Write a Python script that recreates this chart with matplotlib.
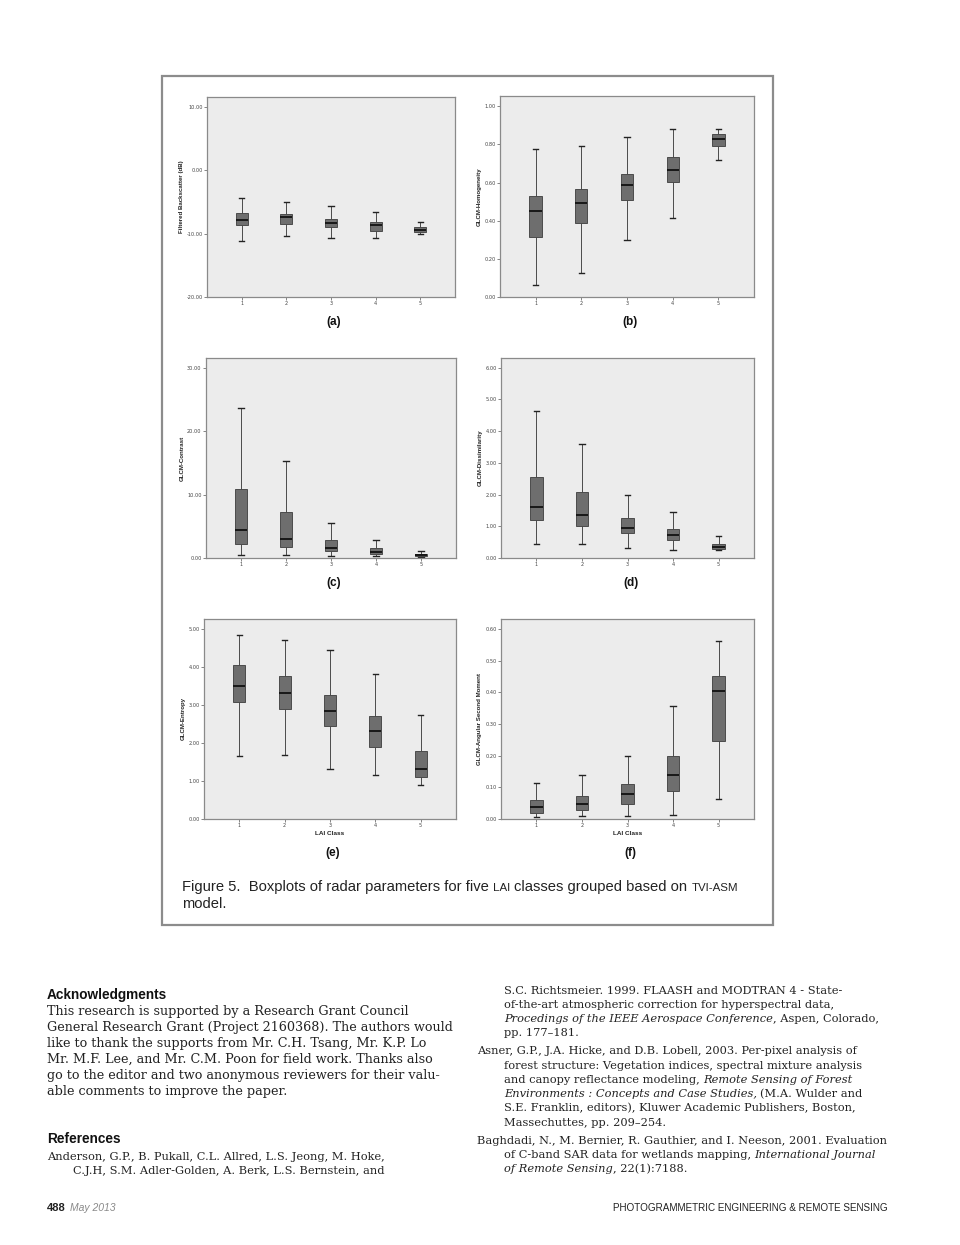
import matplotlib
matplotlib.use("Agg")
import matplotlib.pyplot as plt
from matplotlib.patches import Rectangle

W, H = 960, 1245

classes = ["1", "2", "3", "4", "5"]

# (a) Filtered Backscatter (dB)
a_lo = [-11.2, -10.4, -10.6, -10.6, -10.1]
a_q1 = [-8.7, -8.4, -9.0, -9.5, -9.8]
a_med = [-7.85, -7.4, -8.3, -8.7, -9.4]
a_q3 = [-6.8, -6.9, -7.6, -8.2, -8.95]
a_hi = [-4.3, -5.0, -5.7, -6.5, -8.2]

# (b) GLCM-Homogeneity
b_lo = [0.064, 0.127, 0.30, 0.416, 0.716]
b_q1 = [0.317, 0.389, 0.507, 0.603, 0.794]
b_med = [0.449, 0.493, 0.589, 0.667, 0.826]
b_q3 = [0.53, 0.566, 0.646, 0.732, 0.857]
b_hi = [0.777, 0.79, 0.84, 0.88, 0.88]

# (c) GLCM-Contrast
c_lo = [0.47, 0.52, 0.31, 0.35, 0.16]
c_q1 = [2.25, 1.78, 1.05, 0.63, 0.26]
c_med = [4.4, 3.04, 1.57, 1.0, 0.42]
c_q3 = [10.8, 7.24, 2.88, 1.52, 0.68]
c_hi = [23.6, 15.3, 5.45, 2.83, 1.15]

# (d) GLCM-Dissimilarity
d_lo = [0.45, 0.45, 0.33, 0.25, 0.24]
d_q1 = [1.19, 1.02, 0.78, 0.56, 0.28]
d_med = [1.61, 1.34, 0.96, 0.73, 0.35]
d_q3 = [2.54, 2.09, 1.26, 0.92, 0.44]
d_hi = [4.62, 3.58, 1.99, 1.46, 0.68]

# (e) GLCM-Entropy
e_lo = [1.66, 1.69, 1.32, 1.16, 0.90]
e_q1 = [3.09, 2.91, 2.46, 1.89, 1.11]
e_med = [3.51, 3.31, 2.84, 2.31, 1.31]
e_q3 = [4.05, 3.77, 3.26, 2.72, 1.79]
e_hi = [4.84, 4.72, 4.46, 3.81, 2.75]

# (f) GLCM-Angular Second Moment
f_lo = [0.007, 0.008, 0.009, 0.012, 0.063]
f_q1 = [0.020, 0.028, 0.048, 0.087, 0.248]
f_med = [0.039, 0.048, 0.079, 0.14, 0.403]
f_q3 = [0.061, 0.074, 0.11, 0.199, 0.451]
f_hi = [0.113, 0.139, 0.20, 0.356, 0.562]

panels = [
    # tag, ylabel, stats, yticks, ylim, axes box (left, top, right, bottom) in px
    ("(a)", "Filtered Backscatter (dB)", (a_lo, a_q1, a_med, a_q3, a_hi),
     [-20, -10, 0, 10], (-20, 11.6), (207, 97, 455, 297)),
    ("(b)", "GLCM-Homogeneity", (b_lo, b_q1, b_med, b_q3, b_hi),
     [0, 0.2, 0.4, 0.6, 0.8, 1.0], (0, 1.054), (500, 96, 754, 297)),
    ("(c)", "GLCM-Contrast", (c_lo, c_q1, c_med, c_q3, c_hi),
     [0, 10, 20, 30], (0, 31.5), (206, 358, 456, 558)),
    ("(d)", "GLCM-Dissimilarity", (d_lo, d_q1, d_med, d_q3, d_hi),
     [0, 1, 2, 3, 4, 5, 6], (0, 6.3), (501, 358, 754, 558)),
    ("(e)", "GLCM-Entropy", (e_lo, e_q1, e_med, e_q3, e_hi),
     [0, 1, 2, 3, 4, 5], (0, 5.27), (204, 619, 456, 819)),
    ("(f)", "GLCM-Angular Second Moment", (f_lo, f_q1, f_med, f_q3, f_hi),
     [0, 0.1, 0.2, 0.3, 0.4, 0.5, 0.6], (0, 0.632), (501, 619, 754, 819)),
]

fig = plt.figure(figsize=(W / 100, H / 100), dpi=100)
fig.patch.set_facecolor("white")

# figure frame
fig.add_artist(Rectangle((161.7 / W, 1 - 925.3 / H), (773.3 - 161.7) / W, (925.3 - 76) / H,
                         transform=fig.transFigure, fill=False, ec="#8c8c8c", lw=1.6))

sans = ["Liberation Sans", "DejaVu Sans"]

for i, (tag, ylab, st, yt, ylim, box) in enumerate(panels):
    l, t, r, b = box
    ax = fig.add_axes([l / W, 1 - b / H, (r - l) / W, (b - t) / H])
    ax.set_facecolor("#ececec")
    lo, q1, med, q3, hi = st
    stats = [dict(whislo=lo[k], q1=q1[k], med=med[k], q3=q3[k], whishi=hi[k], label=classes[k])
             for k in range(len(classes))]
    ax.bxp(stats, positions=range(1, 6), widths=0.27, capwidths=0.12, showfliers=False,
           patch_artist=True,
           boxprops=dict(facecolor="#6e6e6e", edgecolor="#3c3c3c", lw=0.6),
           medianprops=dict(color="#111111", lw=1.3),
           whiskerprops=dict(color="#4a4a4a", lw=0.7),
           capprops=dict(color="#222222", lw=1.0))
    ax.set_xlim(0.22, 5.78)
    ax.set_ylim(*ylim)
    ax.set_yticks(yt)
    ax.set_yticklabels(["%.2f" % v for v in yt])
    for s in ax.spines.values():
        s.set_color("#8a8a8a")
        s.set_linewidth(0.9)
    ax.tick_params(length=2, width=0.5, color="#555555", labelsize=3.6, pad=1.2,
                   labelcolor="#444444")
    ax.set_ylabel(ylab, fontsize=4.4, fontweight="bold", family=sans, labelpad=2, color="#222222")
    if i >= 4:
        ax.set_xlabel("LAI Class", fontsize=4.6, fontweight="bold", family=sans, labelpad=2,
                      color="#222222")
    cx = (l + r) / 2 + 3
    cy = {0: 322, 1: 322, 2: 583, 3: 583, 4: 853, 5: 853}[i]
    fig.text(cx / W, 1 - cy / H, tag, fontsize=8.5, fontweight="bold", family=sans,
             ha="center", va="center", color="#111111")

renderer = fig.canvas.get_renderer()


def run(x, y, parts, family, color="#222222"):
    # parts: (text, size, style); leading/trailing spaces become word gaps
    for s, size, style in parts:
        gap = size * 0.30 * 100 / 72
        if s.startswith(" "):
            x += gap
        txt = fig.text(x / W, 1 - y / H, s.strip(), fontsize=size, family=family, style=style,
                       va="baseline", color=color)
        x += txt.get_window_extent(renderer=renderer).width
        if s.endswith(" "):
            x += gap


# caption
cap = 10.6
run(182, 891, [("Figure 5.  Boxplots of radar parameters for five ", cap, "normal"),
               ("LAI ", cap * 0.78, "normal"),
               ("classes grouped based on ", cap, "normal"),
               ("TVI-ASM", cap * 0.78, "normal")], sans)
run(182, 908, [("model.", cap, "normal")], sans)

# body text
serif = ["DejaVu Serif"]
body = 9.2
ref = 8.2

fig.text(47 / W, 1 - 999 / H, "Acknowledgments", fontsize=9.8, fontweight="bold", family=sans,
         va="baseline", color="#111111")
ack = ["This research is supported by a Research Grant Council",
       "General Research Grant (Project 2160368). The authors would",
       "like to thank the supports from Mr. C.H. Tsang, Mr. K.P. Lo",
       "Mr. M.F. Lee, and Mr. C.M. Poon for field work. Thanks also",
       "go to the editor and two anonymous reviewers for their valu-",
       "able comments to improve the paper."]
for k, line in enumerate(ack):
    run(47, 1015 + 16 * k, [(line, body, "normal")], serif)

fig.text(47 / W, 1 - 1143 / H, "References", fontsize=9.8, fontweight="bold", family=sans,
         va="baseline", color="#111111")
run(47, 1159.5, [("Anderson, G.P., B. Pukall, C.L. Allred, L.S. Jeong, M. Hoke,", ref, "normal")], serif)
run(73, 1173.5, [("C.J.H, S.M. Adler-Golden, A. Berk, L.S. Bernstein, and", ref, "normal")], serif)

right = [
    (504, 994, [("S.C. Richtsmeier. 1999. FLAASH and MODTRAN 4 - State-", ref, "normal")]),
    (504, 1008, [("of-the-art atmospheric correction for hyperspectral data,", ref, "normal")]),
    (504, 1022.5, [("Procedings of the IEEE Aerospace Conference", ref, "italic"),
                   (", Aspen, Colorado,", ref, "normal")]),
    (504, 1036.5, [("pp. 177–181.", ref, "normal")]),
    (477, 1054.5, [("Asner, G.P., J.A. Hicke, and D.B. Lobell, 2003. Per-pixel analysis of", ref, "normal")]),
    (504, 1069, [("forest structure: Vegetation indices, spectral mixture analysis", ref, "normal")]),
    (504, 1083, [("and canopy reflectance modeling, ", ref, "normal"),
                 ("Remote Sensing of Forest", ref, "italic")]),
    (504, 1097, [("Environments : Concepts and Case Studies,", ref, "italic"),
                 (" (M.A. Wulder and", ref, "normal")]),
    (504, 1111, [("S.E. Franklin, editors), Kluwer Academic Publishers, Boston,", ref, "normal")]),
    (504, 1125.5, [("Massechuttes, pp. 209–254.", ref, "normal")]),
    (477, 1143.5, [("Baghdadi, N., M. Bernier, R. Gauthier, and I. Neeson, 2001. Evaluation", ref, "normal")]),
    (504, 1158, [("of C-band SAR data for wetlands mapping, ", ref, "normal"),
                 ("International Journal", ref, "italic")]),
    (504, 1172, [("of Remote Sensing", ref, "italic"), (", 22(1):7188.", ref, "normal")]),
]
for x, y, parts in right:
    run(x, y, parts, serif)

# footer
fig.text(47 / W, 1 - 1211 / H, "488", fontsize=8, fontweight="bold", family=sans,
         va="baseline", color="#222222")
fig.text(70 / W, 1 - 1211 / H, "May 2013", fontsize=7.5, style="italic", family=sans,
         va="baseline", color="#8a8a8a")
fig.text(888 / W, 1 - 1211 / H, "PHOTOGRAMMETRIC ENGINEERING & REMOTE SENSING", fontsize=7.1,
         family=sans, ha="right", va="baseline", color="#222222")

fig.savefig("out.png", dpi=100, facecolor="white")
